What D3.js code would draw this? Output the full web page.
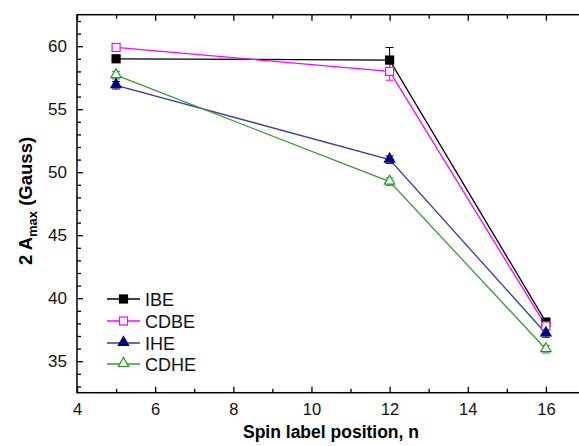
<!DOCTYPE html>
<html>
<head>
<meta charset="utf-8">
<script src="https://cdn.jsdelivr.net/npm/d3@7"></script>
<style>
  body { margin: 0; background: #fff; }
  svg { display: block; font-family: "Liberation Sans", Arial, sans-serif; }
</style>
</head>
<body>
<div id="chart"></div>
<script>
// Data
var positions = [5, 12, 16];
var ibe  = [59.0, 58.9, 38.1];
var cdbe = [59.9, 58.0, 37.8];
var ihe  = [56.9, 51.0, 37.2];
var cdhe = [57.7, 49.25, 35.95];
var ibeErr  = [0.2, 1.0, 0.3];
var cdbeErr = [0.2, 0.7, 0.3];
var iheErr  = [0.3, 0.3, 0.3];
var cdheErr = [0.3, 0.3, 0.3];
var xTicks = [4, 6, 8, 10, 12, 14, 16];
var yTicks = [35, 40, 45, 50, 55, 60];

var series = [
  {name: "IBE",  values: ibe,  err: ibeErr,  color: "#000000", shape: "square",   filled: true},
  {name: "CDBE", values: cdbe, err: cdbeErr, color: "#ff00ff", shape: "square",   filled: false},
  {name: "IHE",  values: ihe,  err: iheErr,  color: "#00007f", shape: "triangle", filled: true,  line: "#3a3aa0"},
  {name: "CDHE", values: cdhe, err: cdheErr, color: "#1f9a1f", shape: "triangle", filled: false, line: "#3a9a3a"}
];

var w = 579, h = 446;
var pLeft = 77, pRight = 585, pTop = 14.7, pBottom = 392.7;

var x = d3.scaleLinear().domain([4, 17]).range([pLeft, pRight]);
var y = d3.scaleLinear().domain([32.5, 62.5]).range([pBottom, pTop]);

var svg = d3.select("#chart").append("svg")
  .attr("width", w).attr("height", h);

// frame
svg.append("rect")
  .attr("x", pLeft).attr("y", pTop)
  .attr("width", pRight - pLeft).attr("height", pBottom - pTop)
  .attr("fill", "none").attr("stroke", "#000").attr("stroke-width", 1.5);

var xMinor = d3.range(5, 17, 2);
var yMinor = d3.range(33, 63, 1).filter(function(d) { return d % 5 !== 0; });

function tickGroup(axis, tr) {
  var g = svg.append("g").attr("transform", tr).call(axis);
  g.select(".domain").remove();
  g.selectAll("line").attr("stroke", "#000").attr("stroke-width", 1.3);
  return g;
}

// bottom axis (labels + inward ticks)
var gx = tickGroup(d3.axisBottom(x).tickValues(xTicks).tickSize(-6).tickPadding(11), "translate(0," + pBottom + ")");
gx.selectAll("text").attr("font-size", 16.5).attr("fill", "#111");
tickGroup(d3.axisBottom(x).tickValues(xMinor).tickSize(-4).tickFormat(""), "translate(0," + pBottom + ")");
// top axis
tickGroup(d3.axisTop(x).tickValues(xTicks).tickSize(-6).tickFormat(""), "translate(0," + pTop + ")");
tickGroup(d3.axisTop(x).tickValues(xMinor).tickSize(-4).tickFormat(""), "translate(0," + pTop + ")");

// left axis
var gy = tickGroup(d3.axisLeft(y).tickValues(yTicks).tickSize(-6).tickPadding(10), "translate(" + pLeft + ",0)");
gy.selectAll("text").attr("font-size", 17).attr("fill", "#111");
tickGroup(d3.axisLeft(y).tickValues(yMinor).tickSize(-4).tickFormat(""), "translate(" + pLeft + ",0)");
// right axis
tickGroup(d3.axisRight(y).tickValues(yTicks).tickSize(-6).tickFormat(""), "translate(" + pRight + ",0)");
tickGroup(d3.axisRight(y).tickValues(yMinor).tickSize(-4).tickFormat(""), "translate(" + pRight + ",0)");

// axis titles
svg.append("text")
  .attr("x", (pLeft + pRight) / 2).attr("y", 438)
  .attr("text-anchor", "middle").attr("font-size", 17.5).attr("font-weight", "bold")
  .text("Spin label position, n");

var yt = svg.append("text")
  .attr("transform", "translate(32,201) rotate(-90)")
  .attr("text-anchor", "middle").attr("font-size", 18.5).attr("font-weight", "bold");
yt.append("tspan").text("2 A");
yt.append("tspan").attr("font-size", 13).attr("dy", 5).text("max");
yt.append("tspan").attr("dy", -5).text(" (Gauss)");

function drawMarker(g, s, cx, cy) {
  var fill = s.filled ? s.color : "#fff";
  if (s.shape === "square") {
    g.append("rect").attr("x", cx - 4).attr("y", cy - 4)
      .attr("width", 8).attr("height", 8)
      .attr("fill", fill).attr("stroke", s.color).attr("stroke-width", 1.2);
  } else {
    var tri = d3.symbol().type(d3.symbolTriangle).size(46);
    g.append("path").attr("d", tri())
      .attr("transform", "translate(" + cx + "," + (cy - 0.5) + ")")
      .attr("fill", fill).attr("stroke", s.color).attr("stroke-width", 1.2);
  }
}

var line = d3.line()
  .x(function(d) { return x(d[0]); })
  .y(function(d) { return y(d[1]); });

series.forEach(function(s) {
  var pts = positions.map(function(p, i) { return [p, s.values[i]]; });
  var g = svg.append("g");
  g.append("path").attr("d", line(pts))
    .attr("fill", "none").attr("stroke", s.line || s.color).attr("stroke-width", 1.3);
  // error bars
  positions.forEach(function(p, i) {
    var cx = x(p), y0 = y(s.values[i] - s.err[i]), y1 = y(s.values[i] + s.err[i]);
    g.append("line").attr("x1", cx).attr("x2", cx).attr("y1", y0).attr("y2", y1)
      .attr("stroke", s.color).attr("stroke-width", 1);
    [y0, y1].forEach(function(yy) {
      g.append("line").attr("x1", cx - 4).attr("x2", cx + 4).attr("y1", yy).attr("y2", yy)
        .attr("stroke", s.color).attr("stroke-width", 1);
    });
  });
});

series.forEach(function(s) {
  var g = svg.append("g");
  positions.forEach(function(p, i) { drawMarker(g, s, x(p), y(s.values[i])); });
});

// legend
var legY = [299, 321, 343, 364];
series.forEach(function(s, i) {
  var g = svg.append("g");
  g.append("line").attr("x1", 107).attr("x2", 140).attr("y1", legY[i]).attr("y2", legY[i])
    .attr("stroke", s.line || s.color).attr("stroke-width", 1.3);
  drawMarker(g, s, 123.5, legY[i]);
  g.append("text").attr("x", 145).attr("y", legY[i] + 6.5)
    .attr("font-size", 18).attr("fill", "#111").text(s.name);
});
</script>
</body>
</html>
